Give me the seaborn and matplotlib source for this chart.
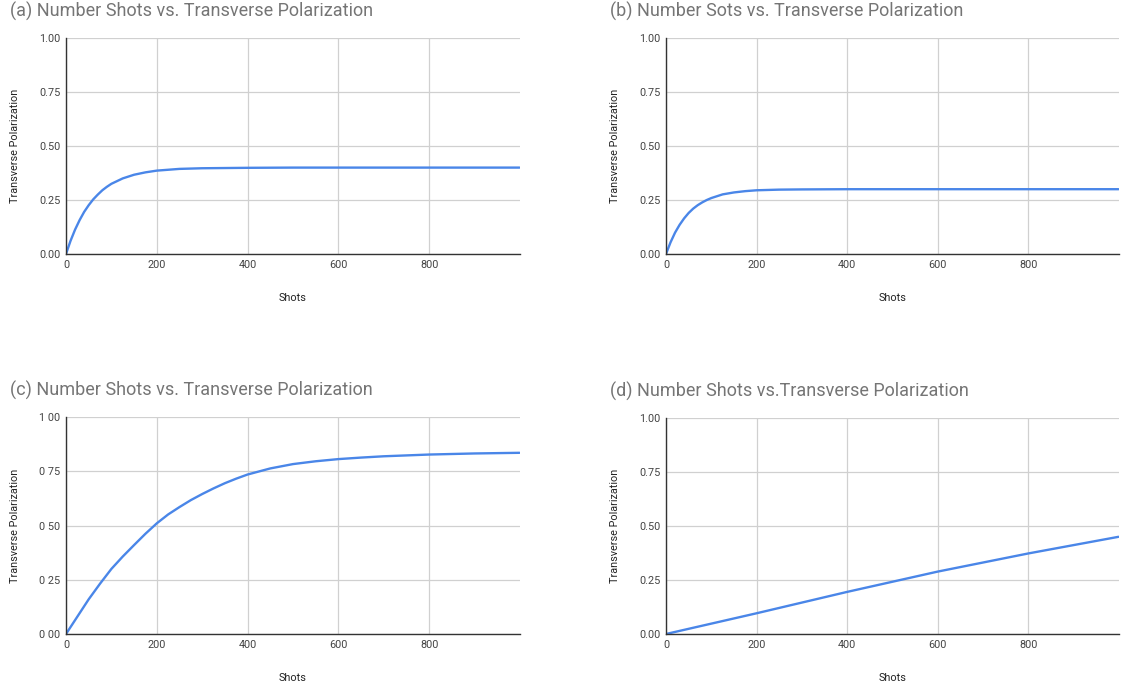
import numpy as np
import pandas as pd
import matplotlib
matplotlib.use("Agg")
import matplotlib.pyplot as plt
import seaborn as sns

# values
shots_a = [0, 10, 20, 30, 40, 50, 60, 70, 80, 90, 100, 125, 150, 175, 200, 250, 300, 400, 500, 600, 700, 800, 900, 999]
pol_a = [0.0, 0.061, 0.113, 0.157, 0.195, 0.226, 0.253, 0.275, 0.295, 0.311, 0.325, 0.350, 0.367, 0.378, 0.386,
         0.394, 0.397, 0.399, 0.400, 0.400, 0.400, 0.400, 0.400, 0.400]

shots_b = [0, 10, 20, 30, 40, 50, 60, 70, 80, 90, 100, 125, 150, 175, 200, 250, 300, 400, 500, 600, 700, 800, 900, 999]
pol_b = [0.0, 0.054, 0.099, 0.135, 0.165, 0.190, 0.210, 0.226, 0.239, 0.250, 0.259, 0.276, 0.285, 0.291, 0.295,
         0.298, 0.299, 0.300, 0.300, 0.300, 0.300, 0.300, 0.300, 0.300]

shots_c = [0, 25, 50, 75, 100, 125, 150, 175, 200, 225, 250, 275, 300, 325, 350, 375, 400, 450, 500,
           550, 600, 650, 700, 750, 800, 900, 999]
pol_c = [0.0, 0.08, 0.16, 0.232, 0.30, 0.357, 0.41, 0.462, 0.51, 0.551, 0.585, 0.617, 0.645, 0.671,
         0.695, 0.716, 0.735, 0.763, 0.783, 0.796, 0.806, 0.813, 0.819, 0.823, 0.827, 0.832, 0.835]

shots_d = [0, 200, 400, 600, 800, 999]
pol_d = [0.0, 0.096, 0.195, 0.289, 0.373, 0.450]

titles = ["(a) Number Shots vs. Transverse Polarization",
          "(b) Number Sots vs. Transverse Polarization",
          "(c) Number Shots vs. Transverse Polarization",
          "(d) Number Shots vs.Transverse Polarization"]
x_ticks = [0, 200, 400, 600, 800]
y_ticks = [0, 0.25, 0.5, 0.75, 1.0]
y_labels = ["0.00", "0.25", "0.50", "0.75", "1.00"]
y_labels_c = ["0 00", "0 25", "0 50", "0 75", "1 00"]

sns.set_theme(style="whitegrid")
plt.rcParams['font.family'] = ['Roboto', 'DejaVu Sans']

W, H = 1124, 688
fig = plt.figure(figsize=(W / 100, H / 100), dpi=100)

# (left, top, right, bottom) in pixels for each plot area
boxes = [(66, 38, 520, 254), (666, 38, 1119, 254),
         (66, 417, 520, 634), (666, 418, 1119, 634)]
data = [(shots_a, pol_a), (shots_b, pol_b), (shots_c, pol_c), (shots_d, pol_d)]

for i, ((l, t, r, b), (xs, ys)) in enumerate(zip(boxes, data)):
    ax = fig.add_axes([l / W, 1 - b / H, (r - l) / W, (b - t) / H])
    df = pd.DataFrame({"Shots": xs, "Transverse Polarization": ys})
    sns.lineplot(data=df, x="Shots", y="Transverse Polarization", ax=ax,
                 color="#4a86e8", linewidth=1.7)
    ax.set_xlim(0, 1000)
    ax.set_ylim(0, 1.0)
    ax.set_xticks(x_ticks)
    ax.set_xticklabels([str(v) for v in x_ticks])
    ax.set_yticks(y_ticks)
    ax.set_yticklabels(y_labels_c if i == 2 else y_labels)
    ax.tick_params(axis="both", labelsize=7.8, colors="#444444", length=0, pad=4)
    ax.grid(True, color="#d0d0d0", linewidth=0.9)
    ax.set_facecolor("white")
    for s in ["top", "right"]:
        ax.spines[s].set_visible(False)
    for s in ["left", "bottom"]:
        ax.spines[s].set_visible(True)
        ax.spines[s].set_color("#333333")
        ax.spines[s].set_linewidth(1.0)
    ax.set_xlabel("Shots", fontsize=7.8, color="#222222", labelpad=17)
    ax.set_ylabel("Transverse Polarization", fontsize=7.8, color="#222222", labelpad=14)
    fig.text((l - 56) / W, 1 - (t - 27) / H, titles[i], fontsize=13,
             color="#757575", ha="left", va="center")

fig.savefig("out.png", dpi=100, facecolor="white")
